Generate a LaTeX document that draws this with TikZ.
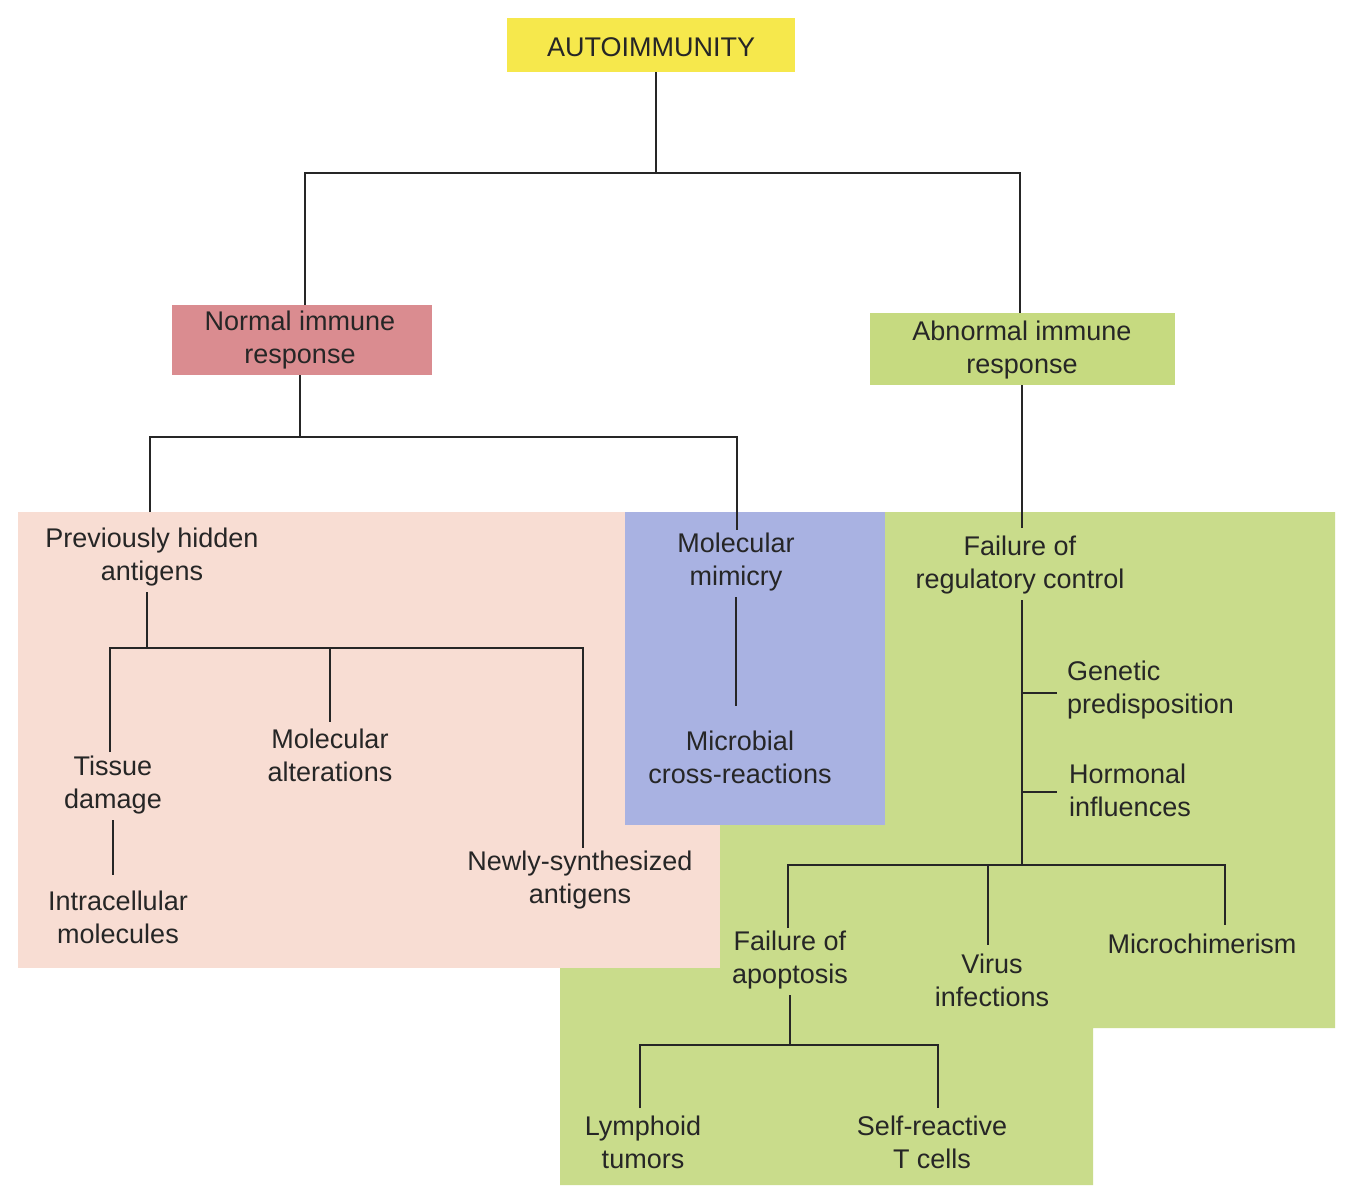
\documentclass[tikz,border=0pt]{standalone}
\usepackage{fontspec}
\setmainfont{Liberation Sans}
\definecolor{pinkbg}{HTML}{F8DDD3}
\definecolor{bluebg}{HTML}{A9B2E2}
\definecolor{greenbg}{HTML}{C9DC8B}
\definecolor{titley}{HTML}{F6E84C}
\definecolor{rosebox}{HTML}{DA8C90}
\definecolor{greenbox}{HTML}{C6DA80}
\begin{document}
\begin{tikzpicture}[x=1pt,y=-1pt,
  txt/.style={align=center,inner sep=1pt,font=\fontsize{27}{33}\selectfont,text=black!85},
  ln/.style={draw=black!85,line width=2.6pt}]
\useasboundingbox (0,0) rectangle (1363,1200);
\fill[white] (0,0) rectangle (1363,1200);
\fill[pinkbg] (18,512) rectangle (760,968);
\fill[bluebg] (625,512) rectangle (885,825);
\fill[greenbg] (885,512) -- (1335,512) -- (1335,1028) -- (1093,1028) -- (1093,1185) -- (560,1185) -- (560,968) -- (720,968) -- (720,825) -- (885,825) -- cycle;
\fill[titley] (507,18) rectangle (795,72);
\fill[rosebox] (172,305) rectangle (432,375);
\fill[greenbox] (870,313) rectangle (1175,385);
\node[txt] (auto) at (651,47) {AUTOIMMUNITY};
\node[txt] (norm) at (300,340) {Normal immune\\response};
\node[txt] (abn) at (1022,350) {Abnormal immune\\response};
\node[txt] (prev) at (152,557) {Previously hidden\\antigens};
\node[txt] (mim) at (736,562) {Molecular\\mimicry};
\node[txt] (fail) at (1020,565) {Failure of\\regulatory control};
\node[txt] (tis) at (113,785) {Tissue\\damage};
\node[txt] (molalt) at (330,755) {Molecular\\alterations};
\node[txt] (newly) at (580,880) {Newly-synthesized\\antigens};
\node[txt] (intra) at (118,917) {Intracellular\\molecules};
\node[txt] (micro) at (740,757) {Microbial\\cross-reactions};
\node[txt,align=left,anchor=west] (gen) at (1066,690) {Genetic\\predisposition};
\node[txt,align=left,anchor=west] (hor) at (1068,790) {Hormonal\\influences};
\node[txt] (apop) at (790,960) {Failure of\\apoptosis};
\node[txt] (virus) at (992,980) {Virus\\infections};
\node[txt] (chim) at (1202,944) {Microchimerism};
\node[txt] (lymph) at (643,1142) {Lymphoid\\tumors};
\node[txt] (self) at (932,1142) {Self-reactive\\T cells};
% connectors
\draw[ln] (656,72) -- (656,173);
\draw[ln] (305,305) -- (305,173) -- (1020,173) -- (1020,313);
\draw[ln] (300,375) -- (300,437);
\draw[ln] (150,512) -- (150,437) -- (737,437) -- (737,530);
\draw[ln] (1022,385) -- (1022,528);
\draw[ln] (147,592) -- (147,648);
\draw[ln] (110,752) -- (110,648) -- (583,648) -- (583,848);
\draw[ln] (330,648) -- (330,722);
\draw[ln] (113,820) -- (113,875);
\draw[ln] (736,597) -- (736,706);
\draw[ln] (1022,600) -- (1022,865);
\draw[ln] (1022,693) -- (1057,693);
\draw[ln] (1022,792) -- (1057,792);
\draw[ln] (788,928) -- (788,865) -- (1225,865) -- (1225,925);
\draw[ln] (988,865) -- (988,945);
\draw[ln] (790,995) -- (790,1045);
\draw[ln] (640,1108) -- (640,1045) -- (938,1045) -- (938,1108);
\end{tikzpicture}
\end{document}
